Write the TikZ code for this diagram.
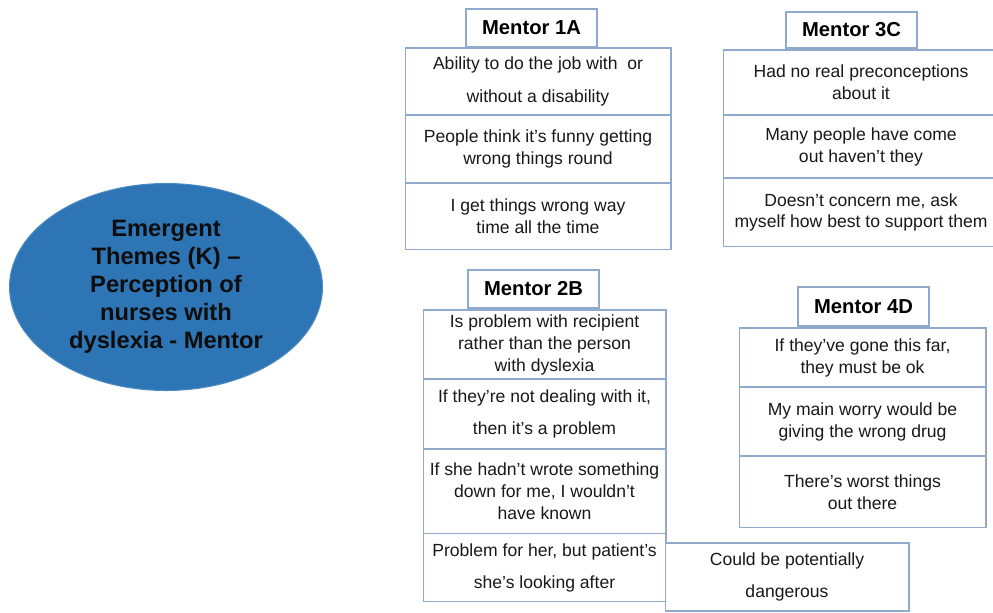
\documentclass[tikz,border=0pt]{standalone}
\usepackage{fontspec}
\setmainfont{Liberation Sans}
\usetikzlibrary{positioning,shapes.geometric}
\definecolor{boxline}{RGB}{143,170,205}
\definecolor{themeblue}{RGB}{46,117,182}
\pgfkeys{tikz/titlebox/.style={draw=boxline,line width=0.6pt,fill=white,minimum width=2.62cm,minimum height=0.76cm,inner sep=0pt,font=\bfseries\fontsize{11.5}{13}\selectfont}}
\pgfkeys{tikz/cellbox/.style={draw=boxline,line width=0.6pt,fill=white,align=center,inner sep=0pt,outer sep=0pt,minimum width=#1,font=\fontsize{10}{12.5}\selectfont,text=black!90},tikz/cellbox/.default=4.9cm}

\begin{document}
\begin{tikzpicture}[x=0.02cm,y=-0.02cm]
\path[use as bounding box,fill=white] (0,0) rectangle (993,612);

% theme
\node (theme) [ellipse,fill=themeblue,draw=themeblue!85!white,line width=0.6pt,minimum width=6.26cm,minimum height=4.14cm,align=center,
  font=\bfseries\fontsize{13.5}{16}\selectfont,text=black!95] at (166,287)
  {Emergent\\Themes (K) --\\Perception of\\nurses with\\dyslexia - Mentor};

% mentor 1A
\node (m1a) [titlebox] at (531.5,28) {Mentor 1A};
\node (m1a-1) [cellbox=5.32cm,minimum height=1.34cm,anchor=north] at (538,48) {Ability to do the job with \ or\\[6pt]without a disability};
\node (m1a-2) [cellbox=5.32cm,minimum height=1.36cm,below=0pt of m1a-1] {People think it's funny getting\\wrong things round};
\node (m1a-3) [cellbox=5.32cm,minimum height=1.34cm,below=0pt of m1a-2] {I get things wrong way\\time all the time};

% mentor 3C
\node (m3c) [titlebox,minimum height=0.72cm] at (851.5,30) {Mentor 3C};
\node (m3c-1) [cellbox=5.52cm,minimum height=1.30cm,anchor=north] at (861,50) {Had no real preconceptions\\about it};
\node (m3c-2) [cellbox=5.52cm,minimum height=1.26cm,below=0pt of m3c-1] {Many people have come\\out haven't they};
\node (m3c-3) [cellbox=5.52cm,minimum height=1.38cm,below=0pt of m3c-2] {Doesn't concern me, ask\\myself how best to support them};

% mentor 2B
\node (m2b) [titlebox] at (533.5,289) {Mentor 2B};
\node (m2b-1) [cellbox=4.86cm,minimum height=1.38cm,anchor=north] at (544.5,310) {Is problem with recipient\\rather than the person\\with dyslexia};
\node (m2b-2) [cellbox=4.86cm,minimum height=1.40cm,below=0pt of m2b-1] {If they're not dealing with it,\\[6pt]then it's a problem};
\node (m2b-3) [cellbox=4.86cm,minimum height=1.70cm,below=0pt of m2b-2] {If she hadn't wrote something\\down for me, I wouldn't\\have known};
\node (m2b-4) [cellbox=4.86cm,minimum height=1.36cm,below=0pt of m2b-3] {Problem for her, but patient's\\[6pt]she's looking after};
\node (m2b-5) [cellbox=4.88cm,minimum height=1.36cm] at (787,577) {Could be potentially\\[6pt]dangerous};

% mentor 4D
\node (m4d) [titlebox,minimum height=0.78cm] at (863.5,306.5) {Mentor 4D};
\node (m4d-1) [cellbox=4.94cm,minimum height=1.18cm,anchor=north] at (862.5,328) {If they've gone this far,\\they must be ok};
\node (m4d-2) [cellbox=4.94cm,minimum height=1.38cm,below=0pt of m4d-1] {My main worry would be\\giving the wrong drug};
\node (m4d-3) [cellbox=4.94cm,minimum height=1.44cm,below=0pt of m4d-2] {There's worst things\\out there};

\end{tikzpicture}
\end{document}
